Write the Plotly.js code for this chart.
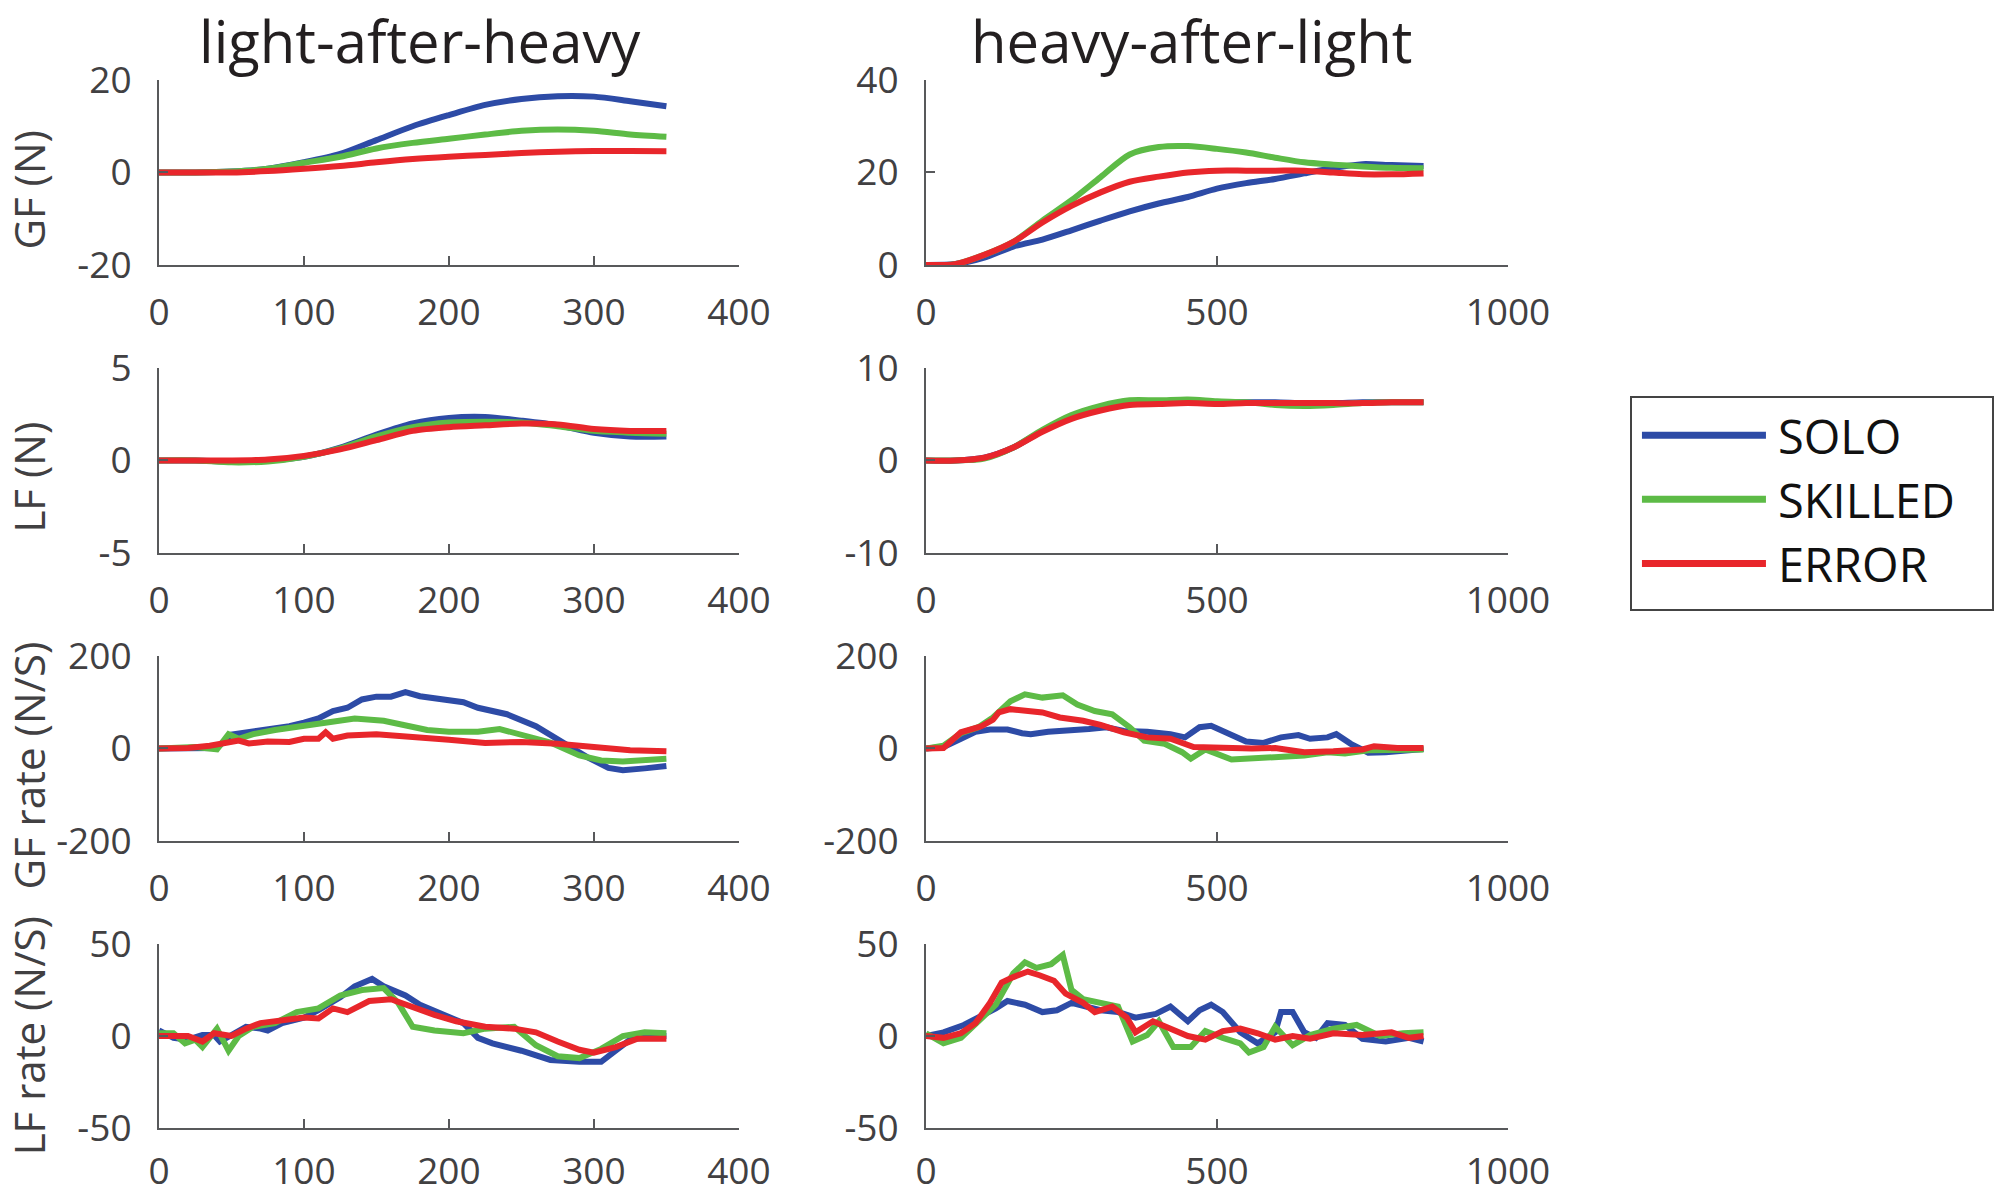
<!DOCTYPE html>
<html>
<head>
<meta charset="utf-8">
<script src="https://cdn.plot.ly/plotly-3.0.1.min.js"></script>
<style>
  html, body { margin: 0; padding: 0; background: #fff; }
  #plot { width: 1997px; height: 1197px; }
</style>
</head>
<body>
<div id="plot"></div>
<script>
  "use strict";

  // time axes (ms)
  const lahT = [0, 25, 50, 75, 100, 125, 150, 175, 200, 225, 250, 275, 300, 325, 350];
  const halT = [0, 50, 100, 150, 200, 250, 300, 350, 400, 450, 500, 550, 600, 650, 700, 750, 800, 855];

  // light-after-heavy, grip force
  const lahGfSolo = [0, 0, 0.2, 0.8, 2.2, 4, 7, 10, 12.4, 14.6, 15.9, 16.5, 16.4, 15.4, 14.3];
  const lahGfSkilled = [0, 0, 0.2, 0.8, 2.1, 3.4, 5.2, 6.4, 7.3, 8.2, 9, 9.3, 9, 8.2, 7.7];
  const lahGfError = [0, 0, 0, 0.3, 0.8, 1.4, 2.2, 2.9, 3.4, 3.8, 4.2, 4.5, 4.65, 4.65, 4.6];

  // light-after-heavy, load force
  const lahLfSolo = [0, 0, -0.05, 0, 0.2, 0.7, 1.4, 2.0, 2.3, 2.35, 2.15, 1.9, 1.5, 1.3, 1.3];
  const lahLfSkilled = [0, 0, -0.1, -0.05, 0.2, 0.65, 1.3, 1.8, 2.05, 2.1, 2.05, 1.85, 1.6, 1.5, 1.45];
  const lahLfError = [0, 0, 0, 0.05, 0.25, 0.6, 1.1, 1.6, 1.8, 1.9, 2.0, 1.95, 1.7, 1.6, 1.6];

  // heavy-after-light, grip force
  const halGfSolo = [0, 0.2, 1.6, 4, 5.5, 7.5, 9.6, 11.6, 13.3, 14.7, 16.5, 17.7, 18.6, 19.8, 21, 21.8, 21.6, 21.4];
  const halGfSkilled = [0, 0.2, 2.2, 5, 9.6, 14, 19, 23.9, 25.5, 25.7, 25.1, 24.3, 23.2, 22.2, 21.7, 21.3, 21, 20.9];
  const halGfError = [0, 0.2, 2.2, 5, 9.2, 12.8, 15.7, 18, 19.1, 20, 20.4, 20.4, 20.4, 20.4, 20, 19.6, 19.6, 19.8];

  // heavy-after-light, load force
  const halLfSolo = [0, 0, 0.3, 1.4, 3.2, 4.7, 5.6, 6.2, 6.3, 6.3, 6.3, 6.3, 6.3, 6.2, 6.2, 6.3, 6.3, 6.3];
  const halLfSkilled = [0, 0, 0.2, 1.4, 3.3, 4.9, 5.9, 6.5, 6.5, 6.6, 6.4, 6.3, 6.0, 5.9, 6.0, 6.2, 6.3, 6.3];
  const halLfError = [0, 0, 0.3, 1.4, 3.1, 4.5, 5.4, 6.0, 6.1, 6.2, 6.1, 6.2, 6.2, 6.2, 6.2, 6.2, 6.3, 6.3];

  // light-after-heavy, grip force rate
  const lahGfrSoloT = [0, 25, 40, 50, 75, 90, 100, 110, 120, 130, 140, 150, 160, 170, 180, 195, 210, 220, 240, 260, 280, 295, 310, 320, 335, 350];
  const lahGfrSolo = [0, 2, 1, 30, 40, 48, 56, 65, 81, 88, 106, 112, 112, 122, 113, 105, 100, 88, 74, 48, 10, -18, -42, -47, -43, -38];
  const lahGfrSkilledT = [0, 25, 40, 48, 55, 65, 80, 100, 120, 135, 155, 170, 185, 200, 220, 235, 250, 270, 290, 305, 320, 350];
  const lahGfrSkilled = [0, 3, -2, 31, 21, 31, 40, 50, 58, 65, 60, 49, 40, 36, 36, 42, 31, 13, -15, -26, -28, -22];
  const lahGfrErrorT = [0, 20, 35, 45, 55, 62, 75, 90, 100, 110, 115, 120, 130, 150, 175, 200, 225, 250, 275, 300, 325, 350];
  const lahGfrError = [0, 1, 6, 10, 17, 11, 15, 14, 21, 21, 35, 21, 28, 31, 26, 19, 12, 14, 10, 3, -4, -6];

  // light-after-heavy, load force rate
  const lahLfrSoloT = [0, 10, 20, 30, 38, 42, 50, 60, 70, 75, 85, 100, 110, 125, 135, 147, 155, 170, 180, 195, 210, 220, 230, 250, 270, 290, 305, 315, 325, 340, 350];
  const lahLfrSolo = [3, -1, -2, 0.5, 0.5, -3, 0.5, 5, 4, 3, 7, 10, 14, 21, 27, 31, 27, 22, 17, 12, 7, -1, -4, -8, -13, -14, -14, -8, -2, 0, 0];
  const lahLfrSkilledT = [0, 10, 18, 25, 30, 40, 48, 55, 65, 80, 95, 110, 125, 140, 155, 165, 175, 190, 210, 225, 245, 260, 275, 290, 305, 320, 335, 350];
  const lahLfrSkilled = [1.5, 1.5, -4, -2, -6, 4, -8, 0, 5, 7, 13, 15, 22, 25, 26, 18, 5, 3, 1.5, 4, 5, -5, -11, -12, -7, 0, 2, 1.5];
  const lahLfrErrorT = [0, 20, 30, 38, 50, 60, 70, 85, 100, 110, 120, 130, 145, 160, 170, 190, 205, 225, 245, 260, 275, 290, 300, 315, 330, 345, 350];
  const lahLfrError = [0, 0, -3, 1.5, 0, 4, 7, 8.5, 10, 9.5, 15, 13, 19, 20, 17, 11.5, 8, 5, 4, 2, -3, -7.5, -9, -6, -1.5, -1, -1.5];

  // heavy-after-light, grip force rate
  const halGfrSoloT = [0, 30, 60, 85, 110, 140, 165, 180, 210, 250, 280, 310, 340, 380, 420, 445, 470, 490, 520, 550, 580, 610, 640, 660, 690, 705, 730, 760, 790, 830, 855];
  const halGfrSolo = [0, 3, 21, 36, 41, 41, 33, 31, 36, 38, 42, 46, 38, 36, 31, 24, 46, 49, 33, 15, 12, 24, 29, 21, 24, 31, 10, -9, -8, -4, -1];
  const halGfrSkilledT = [0, 30, 60, 90, 115, 145, 170, 200, 235, 260, 290, 320, 350, 375, 410, 440, 455, 480, 525, 570, 610, 650, 690, 720, 760, 800, 855];
  const halGfrSkilled = [0, 6, 33, 46, 67, 102, 117, 110, 115, 95, 81, 74, 46, 17, 10, -8, -22, -2, -24, -21, -19, -15, -8, -11, -4, -2, -2];
  const halGfrErrorT = [0, 30, 60, 95, 115, 125, 145, 175, 200, 230, 270, 300, 340, 380, 420, 460, 510, 560, 600, 650, 700, 750, 770, 810, 855];
  const halGfrError = [0, 1, 35, 48, 62, 78, 85, 81, 78, 67, 60, 51, 35, 24, 21, 3, 0, 0, 1, -8, -6, -2, 5, 1, 1];

  // heavy-after-light, load force rate
  const halLfrSoloT = [0, 30, 65, 90, 120, 140, 170, 200, 225, 250, 275, 300, 330, 360, 395, 420, 450, 470, 490, 510, 540, 570, 600, 610, 630, 650, 670, 690, 720, 750, 790, 830, 855];
  const halLfrSolo = [0, 2, 6, 10, 15, 19, 17, 13, 14, 18, 16, 14, 13, 10, 12, 16, 8, 14, 17, 13, 2, -4, 2, 13, 13, 2, -1, 7, 6, -1.5, -3, -1, -3];
  const halLfrSkilledT = [0, 30, 60, 90, 120, 150, 170, 190, 215, 235, 250, 270, 300, 330, 355, 380, 400, 425, 455, 480, 510, 540, 555, 580, 600, 630, 660, 700, 740, 780, 820, 855];
  const halLfrSkilled = [1.5, -4, -1, 8.5, 17, 34, 40, 37, 39, 44, 25, 20, 18, 16, -3, 0.5, 8, -6, -6, 2.7, -1, -4, -9, -6, 5, -5, 0.5, 4, 6, 0, 1.5, 2];
  const halLfrErrorT = [0, 30, 60, 85, 110, 130, 150, 175, 195, 220, 240, 270, 290, 320, 345, 360, 390, 420, 450, 480, 510, 540, 570, 600, 630, 660, 700, 750, 800, 830, 855];
  const halLfrError = [0, -1, 1.5, 7, 18, 29, 32, 35, 33, 30, 23, 18, 13, 16, 10, 2, 8, 4, 0, -2, 2.7, 4, 1.5, -2, 0, -1.5, 1.5, 0.5, 2, -1, 0];

  const groups = ['SOLO', 'SKILLED', 'ERROR'];
  const colors = {SOLO: '#2d4ba6', SKILLED: '#5dbb46', ERROR: '#e8262b'};

  const colTitles = ['light-after-heavy', 'heavy-after-light'];
  const rowTitles = ['GF (N)', 'LF (N)', 'GF rate (N/S)', 'LF rate (N/S)'];
  const yTicks = [
    [[-20, 0, 20], [0, 20, 40]],
    [[-5, 0, 5], [-10, 0, 10]],
    [[-200, 0, 200], [-200, 0, 200]],
    [[-50, 0, 50], [-50, 0, 50]],
  ];
  const xTicks = [[0, 100, 200, 300, 400], [0, 500, 1000]];

  // panels[row][col] = list of [x, y] per group
  const panels = [
    [[[lahT, lahGfSolo], [lahT, lahGfSkilled], [lahT, lahGfError]],
     [[halT, halGfSolo], [halT, halGfSkilled], [halT, halGfError]]],
    [[[lahT, lahLfSolo], [lahT, lahLfSkilled], [lahT, lahLfError]],
     [[halT, halLfSolo], [halT, halLfSkilled], [halT, halLfError]]],
    [[[lahGfrSoloT, lahGfrSolo], [lahGfrSkilledT, lahGfrSkilled], [lahGfrErrorT, lahGfrError]],
     [[halGfrSoloT, halGfrSolo], [halGfrSkilledT, halGfrSkilled], [halGfrErrorT, halGfrError]]],
    [[[lahLfrSoloT, lahLfrSolo], [lahLfrSkilledT, lahLfrSkilled], [lahLfrErrorT, lahLfrError]],
     [[halLfrSoloT, halLfrSolo], [halLfrSkilledT, halLfrSkilled], [halLfrErrorT, halLfrError]]],
  ];

  // subplot placement (paper fractions)
  const colDomains = [[0.0796, 0.3700], [0.4637, 0.7551]];
  const rowDomains = [[0.7786, 0.9332], [0.5380, 0.6926], [0.2974, 0.4520], [0.0576, 0.2114]];
  // how far each row title sits below its axis middle
  const rowTitleShift = [0.014, 0.014, 0.014, 0.0];

  const tickFont = {family: 'Open Sans, sans-serif', size: 37, color: '#414042'};
  const axisCommon = {
    showline: true, linecolor: '#58595b', linewidth: 2,
    ticks: 'inside', ticklen: 9, tickwidth: 2, tickcolor: '#58595b',
    showgrid: false, zeroline: false, fixedrange: true,
    tickfont: tickFont,
  };

  let traces = [];
  let layout = {
    width: 1997, height: 1197,
    margin: {l: 0, r: 0, t: 0, b: 0, pad: 0},
    paper_bgcolor: '#fff', plot_bgcolor: 'rgba(0,0,0,0)',
    showlegend: true,
    legend: {
      x: 0.8162, y: 0.669, xanchor: 'left', yanchor: 'top',
      bgcolor: '#fff', bordercolor: '#444', borderwidth: 2,
      font: {family: 'Open Sans, sans-serif', size: 47, color: '#111'},
      itemwidth: 136, tracegroupgap: 0,
    },
    annotations: [],
  };

  panels.forEach((row, r) => {
    row.forEach((series, c) => {
      let n = r * 2 + c + 1;
      let xa = 'x' + (n === 1 ? '' : n), ya = 'y' + (n === 1 ? '' : n);
      let smooth = r < 2;
      series.forEach(([xs, ys], g) => {
        traces.push({
          type: 'scatter', mode: 'lines',
          x: xs, y: ys, xaxis: xa, yaxis: ya,
          name: groups[g], legendgroup: groups[g],
          showlegend: n === 1,
          line: {color: colors[groups[g]], width: 6, shape: smooth ? 'spline' : 'linear', smoothing: 0.8},
          hoverinfo: 'skip',
        });
      });
      let yt = yTicks[r][c];
      layout['xaxis' + (n === 1 ? '' : n)] = Object.assign({}, axisCommon, {
        domain: colDomains[c], anchor: ya,
        range: [0, xTicks[c][xTicks[c].length - 1]],
        tickvals: xTicks[c], ticktext: xTicks[c].map(String),
        ticklabelstandoff: r === 3 ? 10 : 14,
      });
      layout['yaxis' + (n === 1 ? '' : n)] = Object.assign({}, axisCommon, {
        domain: rowDomains[r], anchor: xa,
        range: [yt[0], yt[2]],
        // plain hyphen for negatives, as in the original figure
        tickvals: yt, ticktext: yt.map(String), ticklabelstandoff: 18,
      });
    });
  });

  // column titles
  [[0.2103, colTitles[0]], [0.5964, colTitles[1]]].forEach(([x, t]) => {
    layout.annotations.push({
      xref: 'paper', yref: 'paper', x: x, y: 1, xanchor: 'center', yanchor: 'top',
      text: t, showarrow: false, borderpad: 0,
      font: {family: 'Open Sans, sans-serif', size: 58, color: '#231f20'},
    });
  });

  // row titles (y axis labels)
  rowTitles.forEach((t, r) => {
    layout.annotations.push({
      xref: 'paper', yref: 'paper', x: 0.0142,
      y: (rowDomains[r][0] + rowDomains[r][1]) / 2 - rowTitleShift[r],
      xanchor: 'center', yanchor: 'middle', textangle: -90,
      text: t, showarrow: false,
      font: {family: 'Open Sans, sans-serif', size: 42, color: '#414042'},
    });
  });

  let plot = document.getElementById('plot');
  Plotly.newPlot(plot, traces, layout, {displayModeBar: false, staticPlot: true}).then(() => {
    // stretch the legend line samples to the item width
    plot.querySelectorAll('.legend .legendlines path').forEach(p => {
      p.setAttribute('d', 'M10,0h124');
      p.style.strokeWidth = '7px';
    });
    // a little more room on the right and bottom of the legend box
    let bg = plot.querySelector('.legend rect.bg');
    if (bg) {
      bg.setAttribute('width', +bg.getAttribute('width') + 32);
      bg.setAttribute('height', +bg.getAttribute('height') + 8);
    }
  });
</script>
</body>
</html>
